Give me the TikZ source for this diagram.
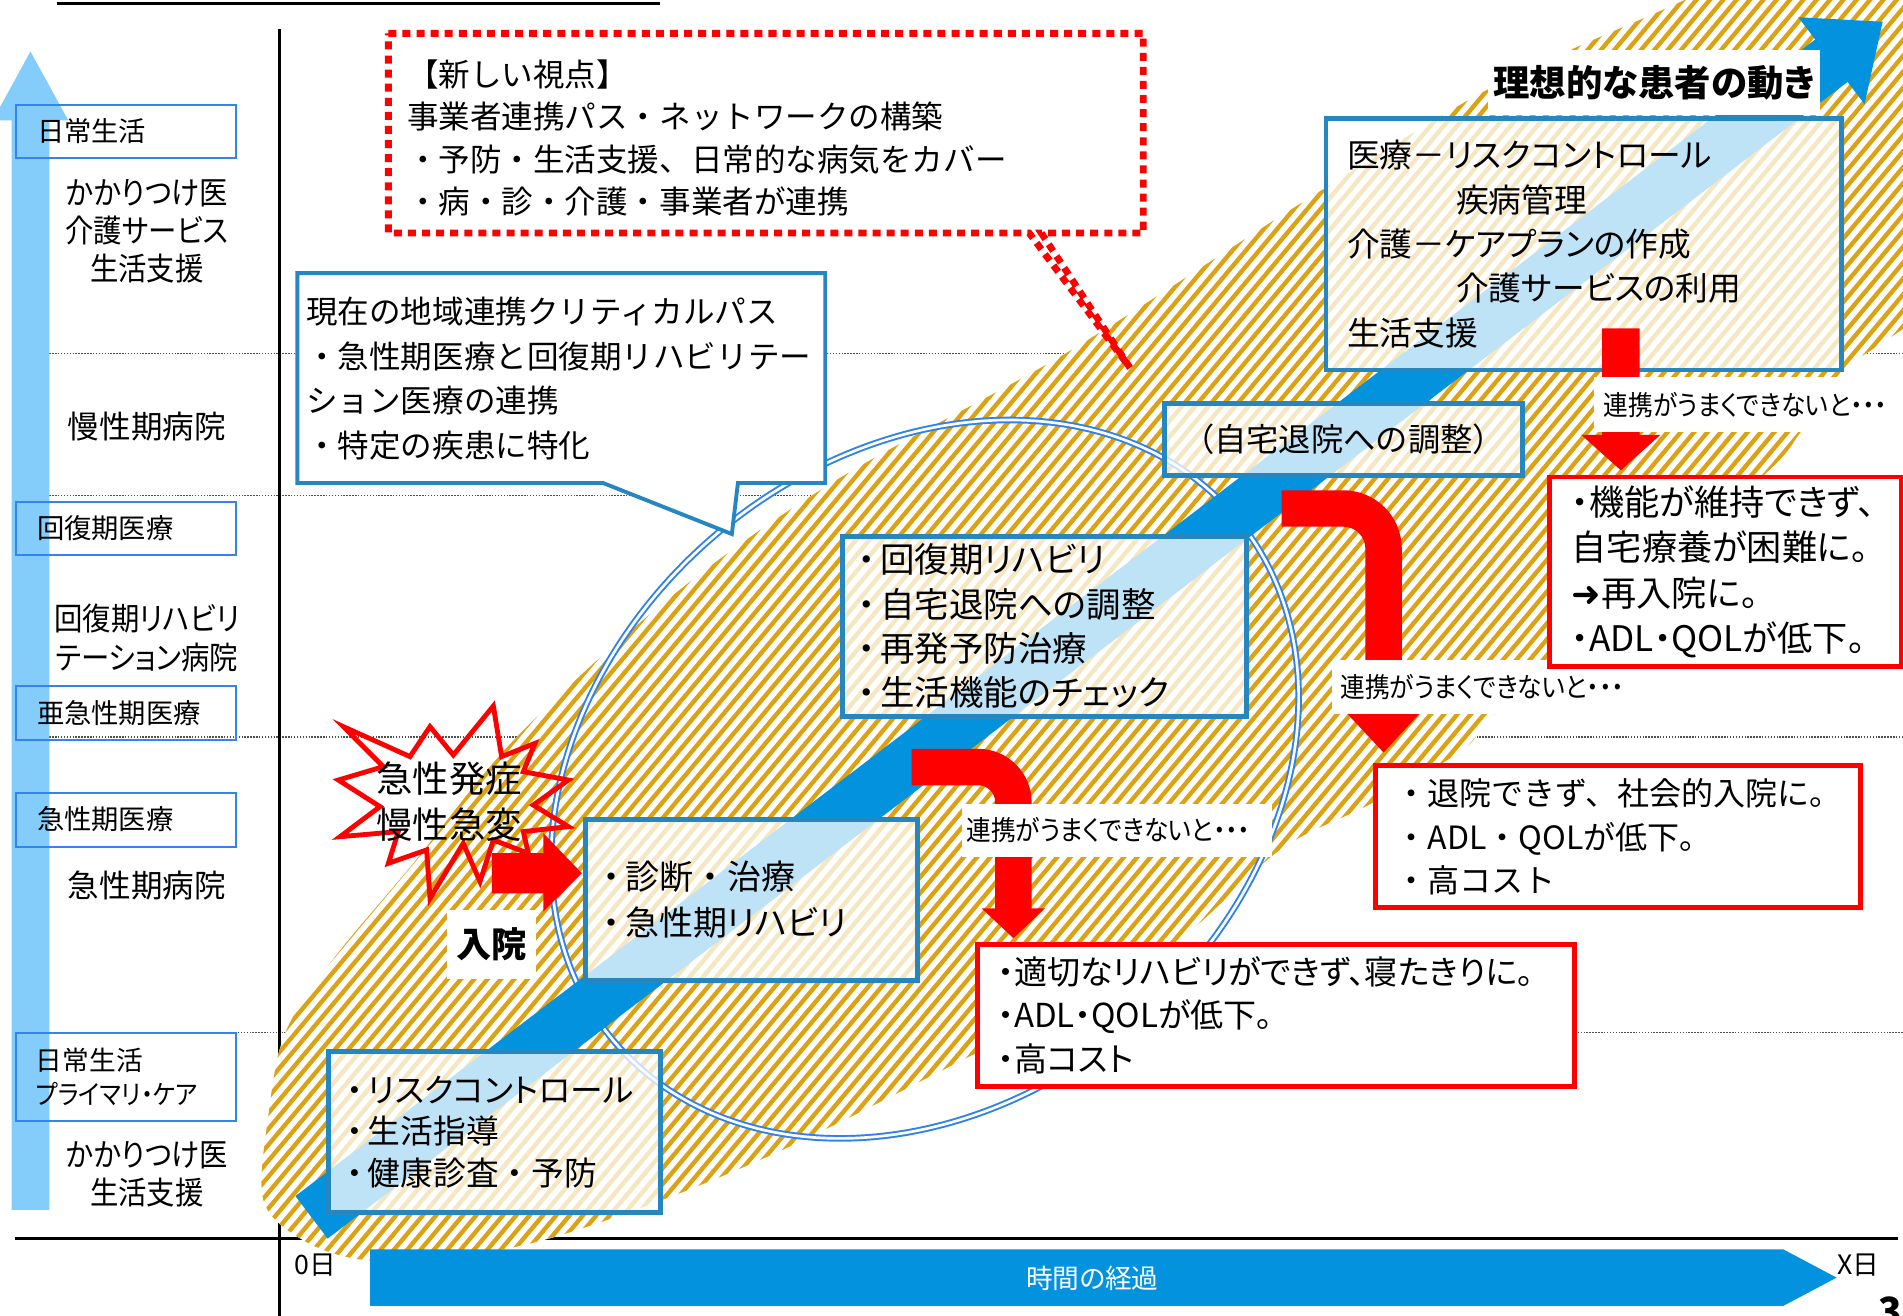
\documentclass[tikz,border=0pt]{standalone}
\usepackage{fontspec}
\setmainfont{Noto Sans CJK JP}[RawFeature={+palt}]
\newfontfamily\fwfont{Noto Sans CJK JP}
\newfontfamily\narrowfont{Noto Sans CJK JP}[RawFeature={+palt}, FakeStretch=0.9]
\newfontfamily\arrowfont{DejaVu Sans}
\definecolor{bandgold}{RGB}{221,162,18}
\definecolor{arrowblue}{RGB}{3,146,222}
\definecolor{lightblue}{RGB}{132,205,250}
\definecolor{boxblue}{RGB}{38,134,192}
\definecolor{labelblue}{RGB}{52,132,240}
\definecolor{circblue}{RGB}{48,130,235}
\definecolor{dotgray}{RGB}{80,80,80}
\newcommand\myfs[2]{\fontsize{#1}{#2}\selectfont}
\newcommand\dt{\makebox[1em][c]{・}}
\newcommand\ld{\makebox[0.65em][l]{・}}
\begin{document}
\begin{tikzpicture}[x=0.5pt,y=-0.5pt,
  axisline/.style={black, line width=1.1pt},
  dotline/.style={dotgray, line width=0.5pt, dash pattern=on 0.6pt off 0.6pt},
  lbox/.style={draw=labelblue, line width=0.8pt, anchor=north west, align=left, inner ysep=0pt},
  sidetext/.style={inner sep=0pt, align=center, font={\myfs{13}{15.8}}},
  bluebox/.style={draw=boxblue, line width=2pt, fill=white, fill opacity=0.75, text opacity=1, anchor=north west, align=left, inner ysep=0pt},
  redbox/.style={draw=red, line width=2pt, fill=white, anchor=north west, align=left, inner ysep=0pt},
  warnlabel/.style={fill=white, anchor=north west, inner sep=0pt, align=left, font={\narrowfont\myfs{11.3}{13}}},
  redarrow/.style={fill=red},
  plain/.style={inner sep=0pt}
]
\useasboundingbox (0,0) rectangle (1568,1084);

% guide lines
\foreach \yy in {291.5,408.2,607.2} \draw[dotline] (40.6,\yy) -- (1568,\yy);
\draw[dotline] (193.6,850.5) -- (1568,850.5);

% title underline
\draw[line width=1pt] (47,2.7) -- (543.6,2.7);

% left light blue arrow
\fill[lightblue] (9.6,996.8) -- (9.6,99.2) -- (-6,99.2) -- (25.1,42.4) -- (56.3,99.2) -- (40.6,99.2) -- (40.6,996.8) -- cycle;

% axes
\draw[axisline] (230.4,24.2) -- (230.4,1084);
\draw[axisline] (12.4,1020.3) -- (1564,1020.3);

% hatched band
\begin{scope}
\clip plot[smooth cycle, tension=0.55] coordinates {(217,989) (221,920) (235,851) (274,791) (340,712) (426,607) (555,490) (690,395) (880,290) (1071,168) (1229,72) (1388,0) (1480,-45) (1700,-60) (1700,200) (1620,235) (1568,271) (1538,291) (1519,304) (1483,357) (1456,389) (1350,482) (1233,587) (1205,618) (1130,662) (1055,700) (972,774) (880,828) (780,880) (650,945) (545,989) (447,1022) (370,1036) (299,1038) (250,1022)};
\fill[white] (150,-80) rectangle (1720,1100);
\foreach \c in {700,711,...,2300} \draw[bandgold, line width=1.8pt] (\c,-60) -- ({\c-1158},1320);
\end{scope}

% circle (double line)
\draw[circblue, line width=0.8pt, double=white, double distance=1.1pt] plot[domain=0:357, samples=120, smooth cycle, variable=\t] ({762+256.6*cos(\t)+170.4*sin(\t)}, {642-215.4*cos(\t)+203*sin(\t)});

% main blue arrow
\fill[arrowblue] (243.4,985.5) -- (1495.7,32.5) -- (1481.7,14.2) -- (1551.2,17.9) -- (1536.3,85.8) -- (1522.3,67.5) -- (270.0,1020.5) -- cycle;

% time arrow
\fill[arrowblue] (305,1029.4) -- (1469.3,1029.4) -- (1513.3,1052.7) -- (1469.3,1076) -- (305,1076) -- cycle;
\node[plain, text=white, font={\myfs{11}{13}}] (timetext) at (900,1053) {時間の経過};
\node[plain, font={\myfs{11}{13}}] (day0) at (259.5,1042) {0日};
\node[plain, font={\myfs{11}{13}}] (dayx) at (1531,1042) {X日};
\node[anchor=north west, inner sep=0pt, font={\bfseries\myfs{16}{16}}] (pagenum) at (1547,1068) {3};

% left labels
\node[lbox, minimum width=90.6pt, minimum height=21.5pt, text width=73.3pt, inner xsep=8.65pt, font={\myfs{11.25}{14}}] (lab1) at (12.4,86) {日常生活};
\node[lbox, minimum width=90.6pt, minimum height=21.65pt, text width=73.3pt, inner xsep=8.65pt, font={\myfs{11.25}{14}}] (lab2) at (12.4,412.8) {回復期医療};
\node[lbox, minimum width=90.6pt, minimum height=22.2pt, text width=73.3pt, inner xsep=8.65pt, font={\myfs{11.25}{14}}] (lab3) at (12.4,564.6) {亜急性期医療};
\node[lbox, minimum width=90.6pt, minimum height=22.2pt, text width=73.3pt, inner xsep=8.65pt, font={\myfs{11.25}{14}}] (lab4) at (12.4,652.3) {急性期医療};
\node[lbox, minimum width=90.6pt, minimum height=36pt, text width=74.2pt, inner xsep=8.2pt, font={\myfs{11}{14.2}}] (lab5) at (12.4,850.5) {日常生活\\{\narrowfont プライマリ・ケア}};

\node[sidetext, font={\narrowfont\myfs{13}{15.8}}] (side1) at (121,190.6) {かかりつけ医\\介護サービス\\生活支援};
\node[sidetext] (side2) at (121,351.4) {慢性期病院};
\node[sidetext, font={\narrowfont\myfs{13}{15.8}}] (side3) at (121,525.7) {回復期リハビリ\\テーション病院};
\node[sidetext] (side4) at (121,729.8) {急性期病院};
\node[sidetext, font={\narrowfont\myfs{13}{15.8}}] (side5) at (121,967.7) {かかりつけ医\\生活支援};

% red dotted callout
\draw[red, line width=2.8pt, dash pattern=on 3.3pt off 2.5pt, fill=white] (320,27.5) -- (942,27.5) -- (942,192) -- (858,192) -- (931,303) -- (848,192) -- (320,192) -- cycle;
\node[plain, anchor=west, align=left, font={\fwfont\myfs{13}{17.5}}] (newview) at (335,113.5) {【新しい視点】\\事業者連携パス・ネットワークの構築\\・予防・生活支援、日常的な病気をカバー\\・病・診・介護・事業者が連携};

% blue callout
\draw[boxblue, line width=1.6pt, fill=white] (245,225) -- (680,225) -- (680,398) -- (608,398) -- (603,440) -- (497,398) -- (245,398) -- cycle;
\node[plain, anchor=west, align=left, font={\fwfont\myfs{13}{18.3}}] (curpath) at (252,312) {現在の地域連携クリティカルパス\\・急性期医療と回復期リハビリテー\\ション医療の連携\\・特定の疾患に特化};

% blue boxes
\node[bluebox, text width=122pt, inner xsep=7.5pt, minimum height=66.3pt, font={\myfs{13.5}{17.2}}] (boxH) at (268.5,864.5) {\ld リスクコントロール\\\ld 生活指導\\\ld 健康診査\dt 予防};
\node[bluebox, text width=122.25pt, inner xsep=7.25pt, minimum height=66.5pt, font={\myfs{14}{19}}] (boxG) at (480.5,673) {\ld 診断\dt 治療\\\ld 急性期リハビリ};
\node[bluebox, text width=153.5pt, inner xsep=6.5pt, minimum height=74pt, font={\myfs{14.2}{18.3}}] (boxF) at (692,440) {\ld 回復期リハビリ\\\ld 自宅退院への調整\\\ld 再発予防治療\\\ld 生活機能のチェック};
\node[bluebox, text width=147.6pt, inner xsep=0pt, align=center, minimum height=29.7pt, font={\fwfont\myfs{13.3}{16}}] (boxE) at (957.4,330.4) {（自宅退院への調整）};
\node[bluebox, text width=194.8pt, inner xsep=8.7pt, minimum height=103.7pt, font={\myfs{13.5}{18.3}}] (boxD) at (1090.6,95.4) {医療－リスクコントロール\\\hspace*{44.9pt}疾病管理\\介護－ケアプランの作成\\\hspace*{44.9pt}介護サービスの利用\\生活支援};

% ideal label
\node[fill=white, inner sep=0pt, minimum width=137pt, minimum height=27pt, font={\bfseries\myfs{15}{17}}] (ideal) at (1363,68) {理想的な患者の動き};

% red arrows
\fill[redarrow] (405.3,703) -- (447.8,703) -- (447.8,686.6) -- (479.4,719.5) -- (447.8,751) -- (447.8,736) -- (405.3,736) -- cycle;
\fill[redarrow] (751.2,617) -- (806,617) .. controls (830.3,617) and (850,636.7) .. (850,661) -- (850,748.4) -- (861,748.4) -- (835,773) -- (808.8,748.4) -- (820,748.4) -- (820,661) .. controls (820,653.3) and (813.7,647) .. (806,647) -- (751.2,647) -- cycle;
\fill[redarrow] (1056,404) -- (1107,404) .. controls (1133.5,404) and (1155,425.5) .. (1155,452) -- (1155,588) -- (1169.5,588) -- (1140,620) -- (1110,588) -- (1125,588) -- (1125,452) .. controls (1125,442.1) and (1117,434) .. (1107,434) -- (1056,434) -- cycle;
\fill[redarrow] (1320,270.5) -- (1351,270.5) -- (1351,358.4) -- (1368,358.4) -- (1335.5,387.5) -- (1303,358.4) -- (1320,358.4) -- cycle;

% warning labels
\node[warnlabel, minimum width=127.7pt, minimum height=21.95pt, text width=124.1pt, inner xsep=1.8pt] (warn1) at (792.4,661.9) {連携がうまくできないと・・・};
\node[warnlabel, minimum width=120pt, minimum height=21.95pt, text width=113pt, inner xsep=3.5pt] (warn2) at (1097,543.8) {連携がうまくできないと・・・};
\node[warnlabel, minimum width=127.6pt, minimum height=22.7pt, text width=119.4pt, inner xsep=4.1pt] (warn3) at (1312.8,310.3) {連携がうまくできないと・・・};

% red boxes
\node[redbox, text width=127pt, inner xsep=9pt, minimum height=78.25pt, font={\myfs{14.5}{18.65}}] (red1) at (1275,391) {・機能が維持できず、\\自宅療養が困難に。\\{\arrowfont ➜}再入院に。\\・ADL・QOLが低下。};
\node[redbox, text width=183pt, inner xsep=8.5pt, minimum height=58.5pt, font={\fwfont\myfs{13.2}{17.75}}] (red2) at (1131,629) {・退院できず、社会的入院に。\\・ADL・QOLが低下。\\・高コスト};
\node[redbox, text width=229.15pt, inner xsep=8.35pt, minimum height=58.55pt, font={\myfs{13.6}{18}}] (red3) at (803.3,775.9) {・適切なリハビリができず、寝たきりに。\\・ADL・QOLが低下。\\・高コスト};

% star
\draw[red, line width=2pt, line join=miter] (406.5,581.7) -- (413.3,623.4) -- (440.8,612.5) -- (431.2,635.8) -- (468.3,642.7) -- (439.4,663.3) -- (468.3,681.1) -- (431.2,685.2) -- (435.3,703.1) -- (406.5,692.1) -- (395.5,726.4) -- (381.7,694.9) -- (354.3,740.2) -- (351.5,700.3) -- (320.0,711.3) -- (328.2,685.2) -- (280.1,689.4) -- (313.1,664.6) -- (278.8,642.7) -- (315.8,631.7) -- (282.9,598.7) -- (337.8,623.4) -- (354.3,598.7) -- (373.5,622.1) -- cycle;
\node[plain, align=center, font={\myfs{15}{19.2}}] (onset) at (370,660.5) {急性発症\\慢性急変};

% admission label
\node[fill=white, inner sep=0pt, minimum width=37pt, minimum height=28.5pt, font={\bfseries\myfs{14.5}{16}}] (admit) at (405,778.4) {入院};
\end{tikzpicture}
\end{document}
